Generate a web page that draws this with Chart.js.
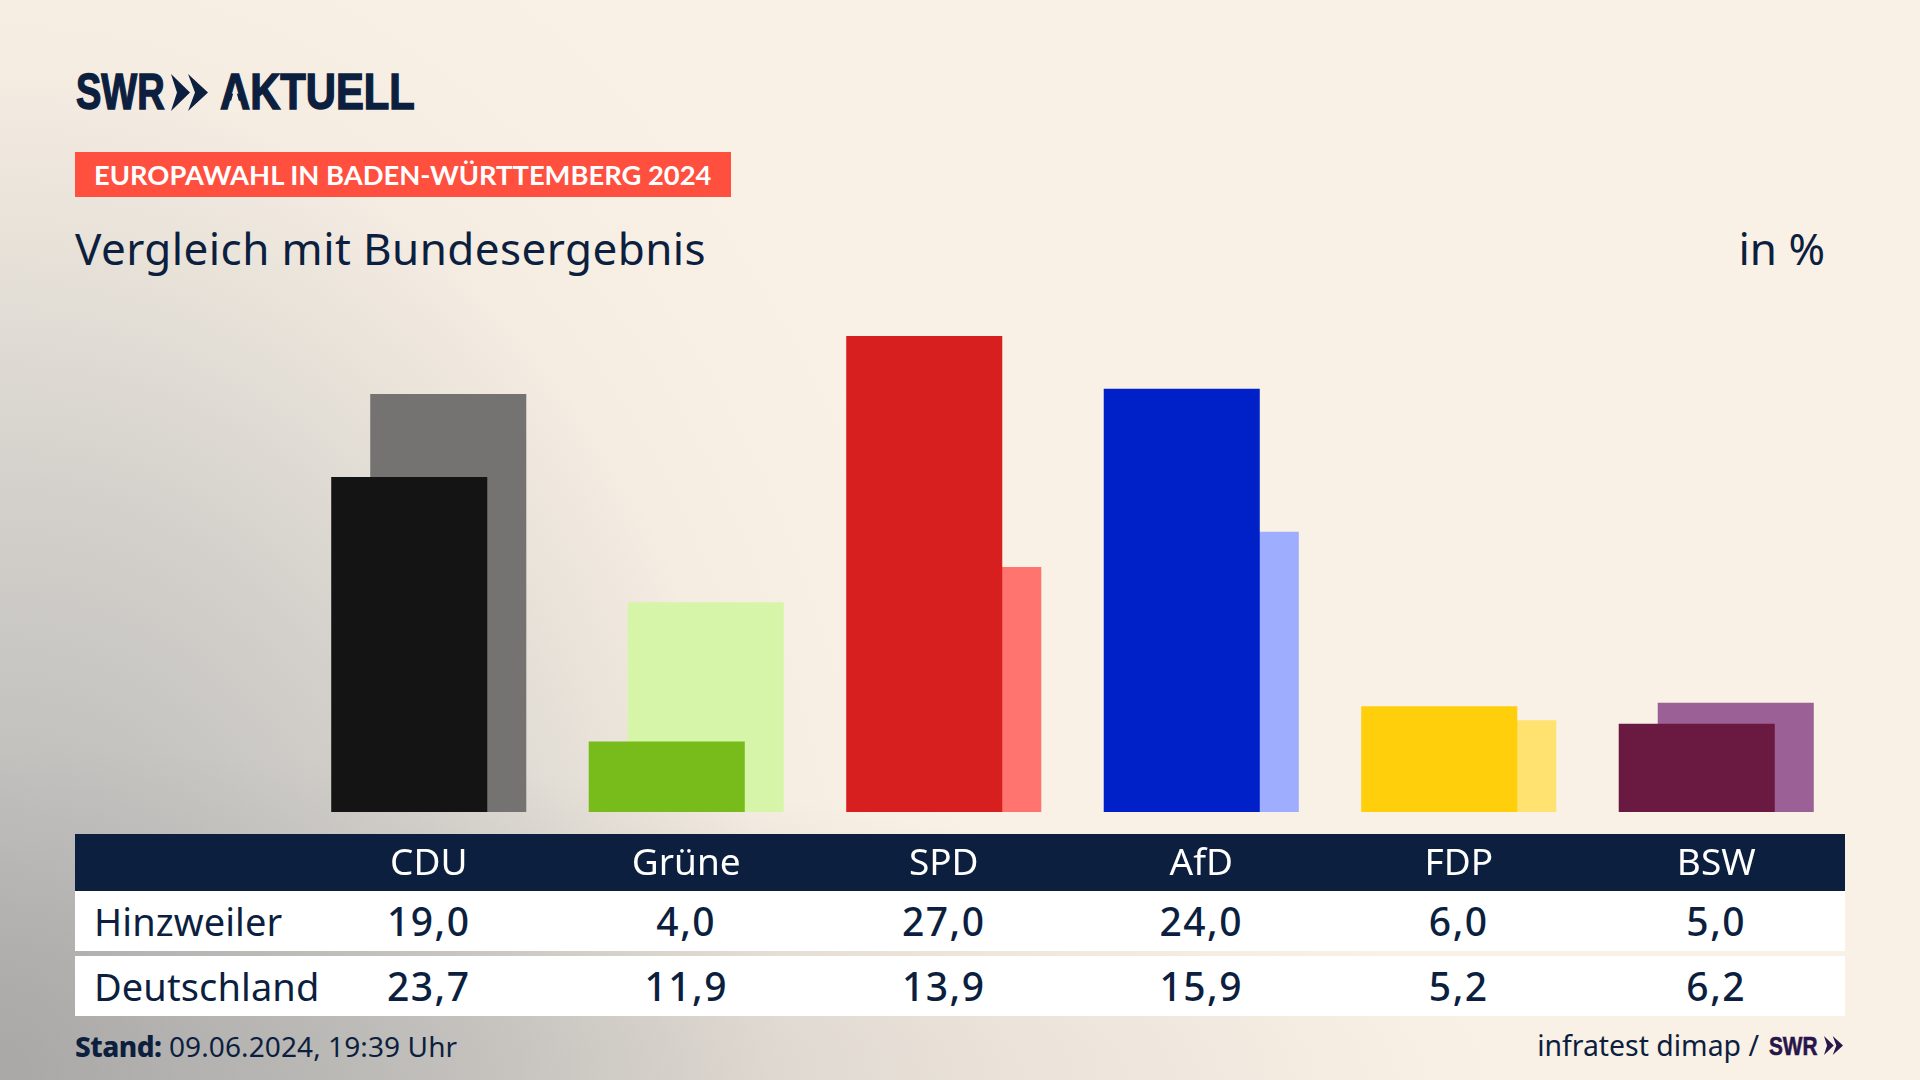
<!DOCTYPE html>
<html lang="de">
<head>
<meta charset="utf-8">
<title>Europawahl in Baden-Württemberg 2024</title>
<script src="https://cdn.jsdelivr.net/npm/chart.js@4/dist/chart.umd.js"></script>
<style>
  html, body { margin: 0; padding: 0; }
  body {
    width: 1920px; height: 1080px; overflow: hidden; position: relative;
    font-family: "Noto Sans", sans-serif; color: #0c1f3f;
    background:
      radial-gradient(ellipse 1500px 330px at 0 100%, rgba(170,168,166,.6) 0%, rgba(170,168,166,0) 100%),
      radial-gradient(ellipse 1000px 1300px at 0 100%, #a9a8a6 0%, #bdbcba 18%, #d4d1cc 46%, #e8e2d9 65%, #f5ece2 78%, #faf1e6 100%),
      #faf1e6;
  }
  .abs { position: absolute; white-space: nowrap; }
  .logo { left: 76px; top: 63px; font: bold 50px/58px "Liberation Sans", sans-serif; -webkit-text-stroke: 1.5px #0c1f3f; transform-origin: 0 0; }
  .tag { left: 75px; top: 152px; width: 656px; height: 45px; background: #ff503f; color: #fff;
    font-family: "Lato"; font-weight: 700; font-size: 27.35px; line-height: 45px; text-indent: 19px; }
  .title { left: 75px; top: 218px; font-size: 44px; line-height: 60px; letter-spacing: .42px; }
  .unit { right: 95px; top: 218px; font-size: 44px; line-height: 60px; }
  .band { left: 75px; top: 834px; width: 1770px; height: 57px; background: #0c1f3f; }
  .row { left: 75px; width: 1770px; height: 60px; background: #fff; display: grid;
    grid-template-columns: 225px repeat(6, 1fr); line-height: 60px; font-size: 39px; font-weight: 500; letter-spacing: 1.5px; }
  .row div { text-align: center; }
  .row div:first-child { text-align: left; padding-left: 19px; font-size: 38px; font-weight: 400; letter-spacing: .1px; }
  .foot { left: 75px; top: 1028px; font-size: 28px; line-height: 36px; letter-spacing: .1px; }
  .foot b { font-weight: 800; letter-spacing: -.5px; }
  .source { right: 161px; top: 1027px; font-size: 28.4px; line-height: 36px; }
  .swr { left: 1769px; top: 1028px; font: bold 26px/36px "Liberation Sans", sans-serif; color: #28164a; -webkit-text-stroke: .6px #28164a; transform-origin: 0 0; transform: scaleX(.8); }
  svg { position: absolute; }
  canvas { position: absolute; left: 300px; top: 283px; }
</style>
</head>
<body>
<div class="abs logo" style="transform:scaleX(.76)">SWR</div>
<svg style="left:171px;top:74px" width="37" height="37" viewBox="0 0 37 37"><path d="M0 0L19 18.500L0 37L6 18.500zM17 0L37 18.500L17 37L24 18.500z" fill="#0c1f3f"/></svg>
<div class="abs logo" style="left:220px;transform:scaleX(.835)">AKTUELL</div>
<!-- the logo's A has no crossbar -->
<svg style="left:220px;top:74px" width="30" height="38" viewBox="0 0 30 38"><path d="M15 13L8 38h14z" fill="#f8efe4"/></svg>
<div class="abs tag">EUROPAWAHL IN BADEN-WÜRTTEMBERG 2024</div>
<div class="abs title">Vergleich mit Bundesergebnis</div>
<div class="abs unit">in %</div>
<div class="abs band"></div>
<div class="abs row" id="row0" style="top:891px"></div>
<div class="abs row" id="row1" style="top:956px"></div>
<div class="abs foot"><b>Stand:</b> 09.06.2024, 19:39 Uhr</div>
<div class="abs source">infratest dimap /</div>
<div class="abs swr">SWR</div>
<svg style="left:1823px;top:1036px" width="21" height="19" viewBox="0 0 37 37"><path d="M0 0L19 18.500L0 37L6 18.500zM17 0L37 18.500L17 37L24 18.500z" fill="#28164a"/></svg>
<canvas id="chart" width="1545" height="607" style="width:1545px;height:607px"></canvas>
<script>
const parties = ["CDU", "Grüne", "SPD", "AfD", "FDP", "BSW"];
const hinzweiler = [19.0, 4.0, 27.0, 24.0, 6.0, 5.0];
const deutschland = [23.7, 11.9, 13.9, 15.9, 5.2, 6.2];
const rowLabels = ["Hinzweiler", "Deutschland"];
const frontColors = ["#141414", "#78bc1b", "#d81f1f", "#0021c8", "#ffcf0c", "#6a1a40"];
const backColors = ["#747371", "#d7f5a9", "#ff746e", "#9fadff", "#ffe26f", "#9b6096"];

const fmt = (v) => v.toFixed(1).replace(".", ",");

[hinzweiler, deutschland].forEach((values, i) => {
  const row = document.getElementById("row" + i);
  const cells = [rowLabels[i], ...values.map(fmt)];
  row.innerHTML = cells.map((c) => `<div>${c}</div>`).join("");
});

new Chart(document.getElementById("chart"), {
  type: "bar",
  data: {
    labels: parties,
    datasets: [
      { label: rowLabels[0], data: hinzweiler, backgroundColor: frontColors },
      { label: rowLabels[1], data: deutschland, backgroundColor: backColors },
    ],
  },
  options: {
    responsive: false,
    animation: false,
    // two overlapping bars, 39px apart and 156px wide
    categoryPercentage: 0.303,
    barPercentage: 4,
    layout: { padding: 0 },
    plugins: { legend: { display: false }, tooltip: { enabled: false } },
    scales: {
      x: {
        grid: { display: false },
        border: { display: false },
        afterFit: (scale) => { scale.height = 78; },
        ticks: {
          color: "#ffffff",
          autoSkip: false,
          maxRotation: 0,
          padding: 22.5,
          font: { family: "Noto Sans", size: 37 },
        },
      },
      y: { display: false, min: 0, max: 30 },
    },
  },
});
</script>
</body>
</html>
